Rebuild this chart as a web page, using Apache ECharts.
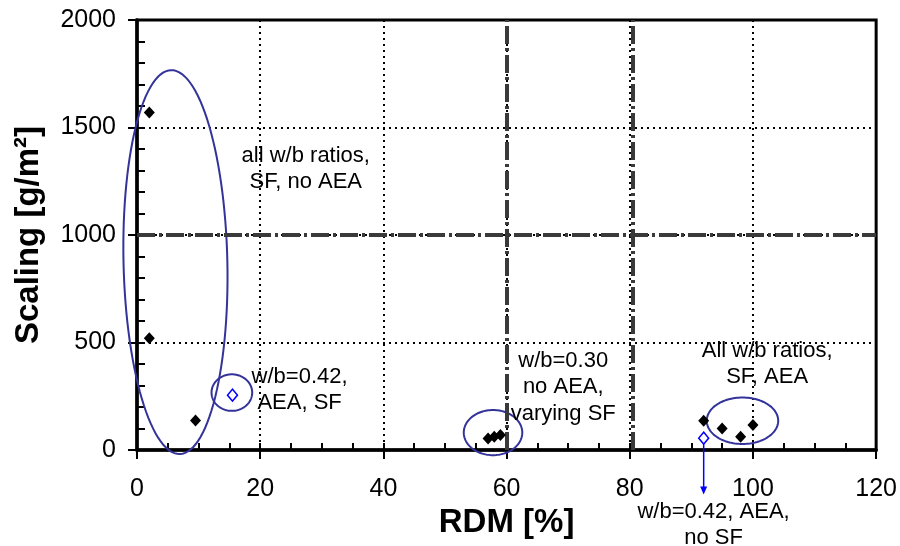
<!DOCTYPE html>
<html>
<head>
<meta charset="utf-8">
<script src="https://cdn.jsdelivr.net/npm/echarts@6/dist/echarts.min.js"></script>
<style>
  html, body { margin: 0; padding: 0; background: #fff; }
  #chart { width: 900px; height: 546px; }
</style>
</head>
<body>
<div id="chart"></div>
<script>
// Specimens without AEA marker fill: RDM [%] against scaling [g/m²]
const rdmFilled     = [2, 2, 9.5, 57, 58, 59, 92, 95, 98, 100];
const scalingFilled = [1570, 520, 137, 54, 62, 70, 136, 100, 62, 116];

// Open markers (w/b = 0.42 with AEA)
const rdmOpen     = [15.5, 92];
const scalingOpen = [255, 55];

// Axis ticks
const xTicks = [0, 20, 40, 60, 80, 100, 120];
const yTicks = [0, 500, 1000, 1500, 2000];

// Acceptance limits
const rdmLimits = [60, 80.5];
const scalingLimits = [1000];

// Group outlines: centre x, centre y, radius x, radius y (data units), tilt in degrees
const groupRings = [
  [6.24, 874, 8.43, 893, -1.3],
  [15.4, 267, 3.3, 85, 0],
  [57.8, 81, 4.75, 105, 0],
  [98.3, 136, 5.8, 108, 0]
];

// Group captions, anchored in data units
const noteText = [
  'all w/b ratios,\nSF, no AEA',
  'w/b=0.42,\nAEA, SF',
  'w/b=0.30\nno AEA,\nvarying SF',
  'All w/b ratios,\nSF, AEA',
  'w/b=0.42, AEA,\nno SF'
];
const noteX = [27.4, 26.4, 69.2, 102.3, 93.6];
const noteY = [1307, 279, 291, 400, -349];

// Pointer from the open marker at RDM 92 down to its caption
const pointerFrom = [92, 55];
const pointerTo = -207;

const FONT = '"Liberation Sans", Arial, Helvetica, sans-serif';
const zip = (a, b) => a.map((v, i) => [v, b[i]]);

const xMin = xTicks[0], xMax = xTicks[xTicks.length - 1], xStep = xTicks[1] - xTicks[0];
const yMin = yTicks[0], yMax = yTicks[yTicks.length - 1], yStep = yTicks[1] - yTicks[0];

const tickStyle = { color: '#000', width: 2 };
const plain = v => String(v);

const chart = echarts.init(document.getElementById('chart'));
chart.setOption({
  animation: false,
  grid: {
    left: 137, right: 23, top: 20, bottom: 96,
    show: true, borderColor: '#000', borderWidth: 3, backgroundColor: 'transparent'
  },
  xAxis: [
    {
      type: 'value', min: xMin, max: xMax, interval: xStep, position: 'bottom',
      axisLine: { show: true, onZero: false, lineStyle: { color: '#000', width: 3.5 } },
      axisTick: { show: true, inside: false, length: 9, lineStyle: tickStyle },
      axisLabel: { fontSize: 25, color: '#000', margin: 27, fontFamily: FONT, formatter: plain },
      splitLine: { show: true, lineStyle: { color: '#000', width: 2, type: [2, 4] } },
      name: 'RDM [%]', nameLocation: 'middle', nameGap: 48,
      nameTextStyle: { fontSize: 33, fontWeight: 'bold', color: '#000', fontFamily: FONT }
    },
    {
      type: 'value', min: xMin, max: xMax, interval: xStep, position: 'bottom',
      axisLine: { show: false, onZero: false },
      axisTick: { show: true, inside: true, length: 7, lineStyle: tickStyle },
      minorTick: { show: true, splitNumber: 4, length: 7, lineStyle: tickStyle },
      axisLabel: { show: false },
      splitLine: { show: false }
    }
  ],
  yAxis: [
    {
      type: 'value', min: yMin, max: yMax, interval: yStep, position: 'left',
      axisLine: { show: true, onZero: false, lineStyle: { color: '#000', width: 3.5 } },
      axisTick: { show: true, inside: false, length: 9, lineStyle: tickStyle },
      axisLabel: { fontSize: 25, color: '#000', margin: 21, fontFamily: FONT, formatter: plain },
      splitLine: { show: true, lineStyle: { color: '#000', width: 2, type: [2, 4] } },
      name: 'Scaling [g/m²]', nameLocation: 'middle', nameGap: 92, nameRotate: 90,
      nameTextStyle: { fontSize: 33, fontWeight: 'bold', color: '#000', fontFamily: FONT }
    },
    {
      type: 'value', min: yMin, max: yMax, interval: yStep, position: 'left',
      axisLine: { show: false, onZero: false },
      axisTick: { show: true, inside: true, length: 8, lineStyle: tickStyle },
      minorTick: { show: true, splitNumber: 5, length: 8, lineStyle: tickStyle },
      axisLabel: { show: false },
      splitLine: { show: false }
    }
  ],
  series: [
    {
      type: 'scatter', xAxisIndex: 0, yAxisIndex: 0,
      data: zip(rdmFilled, scalingFilled),
      symbol: 'diamond', symbolSize: [11, 12],
      itemStyle: { color: '#000', opacity: 1 },
      z: 5,
      markLine: {
        silent: true, symbol: ['none', 'none'],
        label: { show: false },
        lineStyle: { color: '#3a3a3a', width: 4, type: [18, 4, 3, 4] },
        data: rdmLimits.map(v => ({ xAxis: v })).concat(scalingLimits.map(v => ({ yAxis: v })))
      }
    },
    {
      type: 'scatter', xAxisIndex: 0, yAxisIndex: 0,
      data: zip(rdmOpen, scalingOpen),
      symbol: 'diamond', symbolSize: [10, 12],
      itemStyle: { color: '#fff', borderColor: '#0000ff', borderWidth: 1.5, opacity: 1 },
      z: 5
    },
    {
      type: 'custom', xAxisIndex: 0, yAxisIndex: 0, silent: true, z: 4,
      data: groupRings,
      renderItem: function (params, api) {
        const c = api.coord([api.value(0), api.value(1)]);
        const s = api.size([api.value(2), api.value(3)], [api.value(0), api.value(1)]);
        const th = api.value(4) * Math.PI / 180;
        const pts = [];
        for (let k = 0; k < 120; k++) {
          const t = k / 120 * 2 * Math.PI;
          const ex = s[0] * Math.cos(t), ey = s[1] * Math.sin(t);
          pts.push([c[0] + ex * Math.cos(th) - ey * Math.sin(th),
                    c[1] + ex * Math.sin(th) + ey * Math.cos(th)]);
        }
        return { type: 'polygon', shape: { points: pts },
                 style: { fill: 'none', stroke: '#33339a', lineWidth: 2 } };
      }
    },
    {
      type: 'custom', xAxisIndex: 0, yAxisIndex: 0, silent: true, z: 4,
      data: [[pointerFrom[0], pointerFrom[1], pointerTo]],
      renderItem: function (params, api) {
        const a = api.coord([api.value(0), api.value(1)]);
        const b = api.coord([api.value(0), api.value(2)]);
        return {
          type: 'group',
          children: [
            { type: 'line', shape: { x1: a[0], y1: a[1] + 6, x2: b[0], y2: b[1] - 6 },
              style: { stroke: '#0000ff', lineWidth: 1.5 } },
            { type: 'polygon', shape: { points: [[b[0], b[1]], [b[0] - 3.5, b[1] - 8], [b[0] + 3.5, b[1] - 8]] },
              style: { fill: '#0000ff' } }
          ]
        };
      }
    },
    {
      type: 'custom', xAxisIndex: 0, yAxisIndex: 0, silent: true, z: 6,
      data: noteX.map((x, i) => [x, noteY[i], i]),
      renderItem: function (params, api) {
        const p = api.coord([api.value(0), api.value(1)]);
        return {
          type: 'text', x: p[0], y: p[1],
          style: {
            text: noteText[api.value(2)], fontSize: 22, fontFamily: FONT, fill: '#000',
            align: 'center', verticalAlign: 'middle', lineHeight: 26.5
          }
        };
      }
    }
  ]
});
</script>
</body>
</html>
